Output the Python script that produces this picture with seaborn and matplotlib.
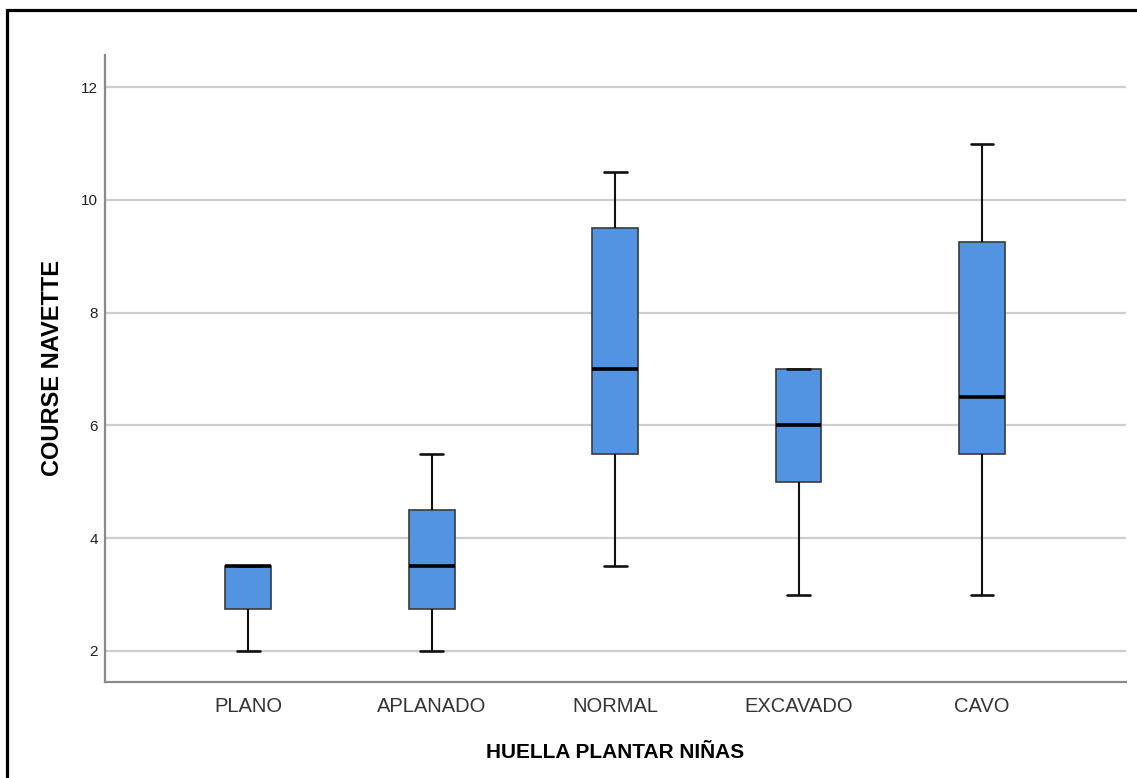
import matplotlib
matplotlib.use("Agg")
import matplotlib.pyplot as plt
from matplotlib.patches import Rectangle
import pandas as pd
import seaborn as sns

# Five-number summaries per footprint type: whisker low, Q1, median, Q3, whisker high
categories = ["PLANO", "APLANADO", "NORMAL", "EXCAVADO", "CAVO"]
plano = [2.0, 2.75, 3.5, 3.5, 3.5]
aplanado = [2.0, 2.75, 3.5, 4.5, 5.5]
normal = [3.5, 5.5, 7.0, 9.5, 10.5]
excavado = [3.0, 5.0, 6.0, 7.0, 7.0]
cavo = [3.0, 5.5, 6.5, 9.25, 11.0]
y_ticks = [2, 4, 6, 8, 10, 12]

x_title = "HUELLA PLANTAR NIÑAS"
y_title = "COURSE NAVETTE"

series = [plano, aplanado, normal, excavado, cavo]
df = pd.DataFrame({
    "huella": [c for c, vals in zip(categories, series) for _ in vals],
    "course": [v for vals in series for v in vals],
})

sns.set_theme(style="white")
plt.rcParams["font.family"] = ["Liberation Sans", "DejaVu Sans"]

W, H = 1137, 778
fig = plt.figure(figsize=(W / 100, H / 100), dpi=100)
ax = fig.add_axes([105 / W, 1 - 682 / H, (1126 - 105) / W, (682 - 55) / H])

box_color = "#5294E2"
sns.boxplot(
    data=df, x="huella", y="course", order=categories, ax=ax,
    color=box_color, saturation=1, width=0.25, whis=(0, 100),
    linecolor="black", linewidth=1.4, fliersize=0,
    boxprops=dict(edgecolor="#3a3a3a", linewidth=1.2),
    medianprops=dict(color="black", linewidth=2.6),
    whiskerprops=dict(color="#111111", linewidth=1.5),
    capprops=dict(color="#111111", linewidth=1.9),
)

ax.set_xlim(-0.78, 4.785)
ax.set_ylim(1.45, 12.57)
ax.set_yticks(y_ticks)
ax.set_yticklabels([str(t) for t in y_ticks])

ax.yaxis.grid(True, color="#cdcdcd", linewidth=1.6)
ax.xaxis.grid(False)
ax.set_axisbelow(True)

for side in ("top", "right"):
    ax.spines[side].set_visible(False)
for side in ("left", "bottom"):
    ax.spines[side].set_color("#8a8a8a")
    ax.spines[side].set_linewidth(1.6)

ax.tick_params(axis="y", length=0, pad=5, labelsize=11, labelcolor="#222222")
ax.tick_params(axis="x", length=0, pad=11, labelsize=14.5, labelcolor="#333333")

ax.set_xlabel(x_title, fontsize=15, fontweight="bold", color="black", va="center")
ax.set_ylabel(y_title, fontsize=17, fontweight="bold", color="black", va="center")
ax.xaxis.set_label_coords(0.5, (682 - 752) / (682 - 55))
ax.yaxis.set_label_coords((53 - 105) / (1126 - 105), 0.5)

# Outer frame around the chart
fig.patches.append(Rectangle((7 / W, -0.2), 2.0, 1 - 10 / H + 0.2,
                             transform=fig.transFigure, fill=False,
                             edgecolor="black", linewidth=2.3))

fig.savefig("out.png", dpi=100, facecolor="white")
